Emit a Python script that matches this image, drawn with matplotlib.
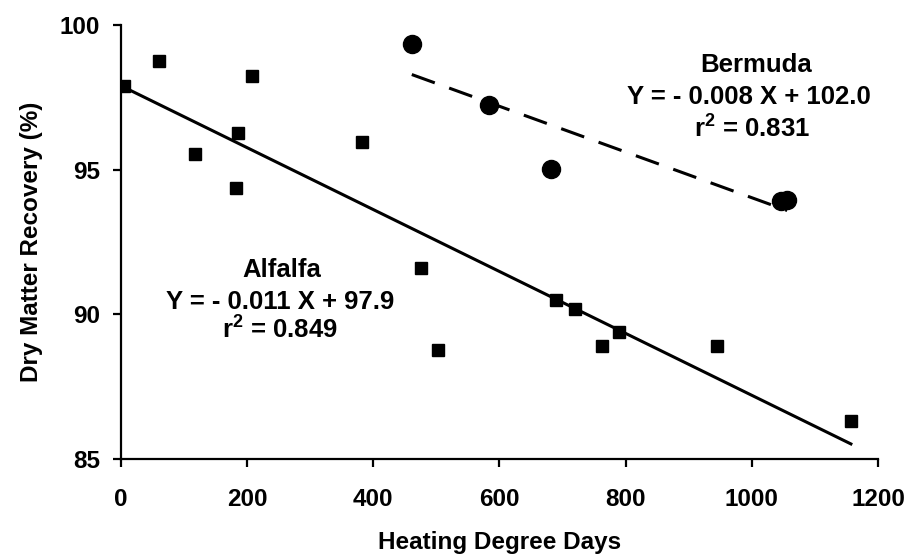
import matplotlib
matplotlib.use("Agg")
import matplotlib.pyplot as plt
import numpy as np

# Alfalfa samples (squares)
alfalfa_hdd = [5, 60, 118, 183, 186, 208, 382, 475, 503, 690, 719, 763, 790, 945, 1157]
alfalfa_dm = [97.9, 98.75, 95.55, 94.35, 96.25, 98.25, 95.95, 91.6, 88.75, 90.5, 90.2, 88.9, 89.4, 88.9, 86.3]

# Bermuda samples (circles)
bermuda_hdd = [461, 583, 681, 1046, 1056]
bermuda_dm = [99.35, 97.23, 95.02, 93.9, 93.95]

# Fitted lines as drawn: slope, intercept
alfalfa_fit = (-0.0107, 97.9)
bermuda_fit = (-0.0079, 101.93)

x_ticks = [0, 200, 400, 600, 800, 1000, 1200]
y_ticks = [85, 90, 95, 100]

plt.rcParams['font.family'] = ['Liberation Sans', 'DejaVu Sans']
plt.rcParams['font.weight'] = 'bold'
plt.rcParams['mathtext.default'] = 'regular'

fig = plt.figure(figsize=(9.22, 5.57), dpi=100)
ax = fig.add_axes([0.1312, 0.1760, 0.8211, 0.7791])

ax.plot(alfalfa_hdd, alfalfa_dm, 's', color='black', ms=9, zorder=3)
ax.plot(bermuda_hdd, bermuda_dm, 'o', color='black', ms=13, zorder=3)

xa = np.array([min(alfalfa_hdd), max(alfalfa_hdd)])
ax.plot(xa, alfalfa_fit[0] * xa + alfalfa_fit[1], '-', color='black', lw=2.2)
xb = np.array([min(bermuda_hdd), max(bermuda_hdd)])
ax.plot(xb, bermuda_fit[0] * xb + bermuda_fit[1], color='black', lw=2.2, dashes=(8, 5))

ax.set_xlim(0, 1200)
ax.set_ylim(85, 100)
ax.set_xticks(x_ticks)
ax.set_yticks(y_ticks)
ax.spines['top'].set_visible(False)
ax.spines['right'].set_visible(False)
for s in ['left', 'bottom']:
    ax.spines[s].set_linewidth(1.6)
ax.tick_params(direction='out', length=6, width=1.6, labelsize=17.5)
ax.tick_params(axis='x', pad=15)
ax.tick_params(axis='y', pad=9)
for lab in ax.get_xticklabels() + ax.get_yticklabels():
    lab.set_fontweight('bold')

ax.set_xlabel('Heating Degree Days', fontsize=17.5, fontweight='bold', labelpad=14)
ax.set_ylabel('Dry Matter Recovery (%)', fontsize=17.5, fontweight='bold', labelpad=12)

txt = dict(ha='center', va='center', fontsize=18.5, fontweight='bold')
ax.text(1007, 98.62, 'Bermuda', **txt)
ax.text(995, 97.51, 'Y = - 0.008 X + 102.0', **txt)
ax.text(1001, 96.40, 'r$^2$ = 0.831', **txt)

ax.text(255, 91.52, 'Alfalfa', **txt)
ax.text(252, 90.42, 'Y = - 0.011 X + 97.9', **txt)
ax.text(252, 89.45, 'r$^2$ = 0.849', **txt)

fig.savefig('out.png', dpi=100)
